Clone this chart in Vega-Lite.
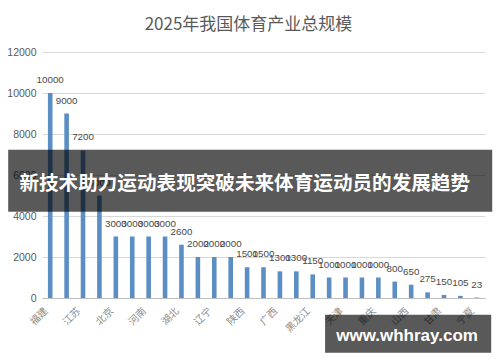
{
  "$schema": "https://vega.github.io/schema/vega-lite/v6.json",
  "autosize": "none",
  "width": 443,
  "height": 246,
  "padding": {"left": 42, "top": 52, "right": 15, "bottom": 64},
  "background": "white",
  "title": {
    "text": "2025年我国体育产业总规模",
    "font": "Noto Sans CJK SC",
    "fontSize": 17,
    "fontWeight": "normal",
    "color": "#595959",
    "anchor": "middle",
    "baseline": "alphabetic",
    "offset": 0,
    "dx": -15
  },
  "config": {
    "view": {"stroke": null},
    "axis": {"labelFont": "Liberation Sans"}
  },
  "data": {
    "values": [
      {"province": "福建", "value": 10000},
      {"province": "广东", "value": 9000},
      {"province": "江苏", "value": 7200},
      {"province": "浙江", "value": 5000},
      {"province": "北京", "value": 3000},
      {"province": "上海", "value": 3000},
      {"province": "河南", "value": 3000},
      {"province": "山东", "value": 3000},
      {"province": "湖北", "value": 2600},
      {"province": "湖南", "value": 2000},
      {"province": "辽宁", "value": 2000},
      {"province": "四川", "value": 2000},
      {"province": "陕西", "value": 1500},
      {"province": "河北", "value": 1500},
      {"province": "广西", "value": 1300},
      {"province": "安徽", "value": 1300},
      {"province": "黑龙江", "value": 1150},
      {"province": "江西", "value": 1000},
      {"province": "天津", "value": 1000},
      {"province": "云南", "value": 1000},
      {"province": "重庆", "value": 1000},
      {"province": "吉林", "value": 800},
      {"province": "山西", "value": 650},
      {"province": "贵州", "value": 275},
      {"province": "甘肃", "value": 150},
      {"province": "内蒙古", "value": 105},
      {"province": "宁夏", "value": 23}
    ]
  },
  "resolve": {"scale": {"x": "independent"}, "axis": {"x": "independent"}},
  "layer": [
    {
      "layer": [
        {
          "mark": {"type": "bar", "color": "#5b8ec4"},
          "encoding": {
            "x": {
              "field": "province",
              "type": "nominal",
              "sort": null,
              "title": null,
              "scale": {"paddingInner": 0.72, "paddingOuter": 0.36},
              "axis": {
                "values": ["福建", "江苏", "北京", "河南", "湖北", "辽宁", "陕西", "广西", "黑龙江", "天津", "重庆", "山西", "甘肃", "宁夏"],
                "labelAngle": -45,
                "labelAlign": "right",
                "labelBaseline": "middle",
                "labelFont": "Noto Sans CJK SC",
                "labelFontSize": 10,
                "labelColor": "#8c8c8c",
                "labelPadding": 11,
                "labelOffset": -4,
                "ticks": false,
                "domainColor": "#bfbfbf",
                "zindex": 0
              }
            },
            "y": {
              "field": "value",
              "type": "quantitative",
              "title": null,
              "scale": {"domain": [0, 12000]},
              "axis": {
                "values": [0, 2000, 4000, 6000, 8000, 10000, 12000],
                "format": "d",
                "labelFontSize": 10.5,
                "labelColor": "#595959",
                "labelPadding": 6,
                "ticks": false,
                "domain": false,
                "gridColor": "#d9d9d9",
                "zindex": 0
              }
            }
          }
        },
        {
          "mark": {
            "type": "text",
            "baseline": "alphabetic",
            "dy": -10,
            "font": "Liberation Sans",
            "fontSize": 9.8,
            "color": "#4a4a4a"
          },
          "encoding": {
            "x": {"field": "province", "type": "nominal", "sort": null},
            "y": {"field": "value", "type": "quantitative"},
            "text": {"field": "value", "type": "quantitative", "format": "d"}
          }
        }
      ]
    },
    {
      "data": {"values": [{"overlay": "banner"}]},
      "layer": [
        {
          "mark": {"type": "rect", "color": "black", "opacity": 0.65},
          "encoding": {
            "x": {"datum": -0.0763, "type": "quantitative", "scale": {"domain": [0, 1]}, "axis": null},
            "x2": {"datum": 1.0163},
            "y": {"datum": 7234, "type": "quantitative"},
            "y2": {"datum": 4210}
          }
        },
        {
          "mark": {
            "type": "text",
            "font": "Noto Sans CJK SC",
            "fontSize": 19.6,
            "fontWeight": "bold",
            "color": "white",
            "baseline": "middle",
            "align": "center"
          },
          "encoding": {
            "x": {"datum": 0.4576, "type": "quantitative", "scale": {"domain": [0, 1]}, "axis": null},
            "y": {"datum": 5576, "type": "quantitative"},
            "text": {"value": "新技术助力运动表现突破未来体育运动员的发展趋势"}
          }
        },
        {
          "mark": {"type": "rect", "color": "black", "opacity": 0.65},
          "encoding": {
            "x": {"datum": 0.639, "type": "quantitative", "scale": {"domain": [0, 1]}, "axis": null},
            "x2": {"datum": 1.014},
            "y": {"datum": -815, "type": "quantitative"},
            "y2": {"datum": -2668}
          }
        },
        {
          "mark": {
            "type": "text",
            "font": "Liberation Sans",
            "fontSize": 17,
            "fontWeight": "bold",
            "color": "white",
            "baseline": "middle",
            "align": "center"
          },
          "encoding": {
            "x": {"datum": 0.824, "type": "quantitative", "scale": {"domain": [0, 1]}, "axis": null},
            "y": {"datum": -1839, "type": "quantitative"},
            "text": {"value": "www.whhray.com"}
          }
        }
      ]
    }
  ]
}
